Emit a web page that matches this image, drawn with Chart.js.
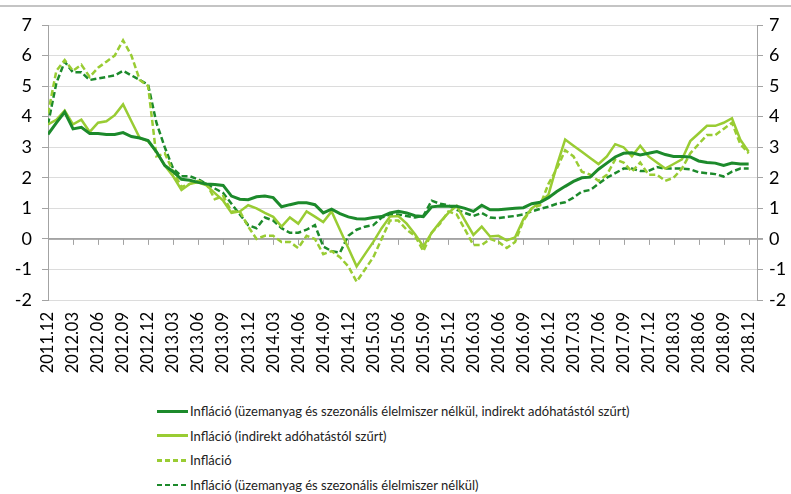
<!DOCTYPE html>
<html>
<head>
<meta charset="utf-8">
<script src="https://cdn.jsdelivr.net/npm/chart.js@4.4.1/dist/chart.umd.min.js"></script>
<style>
    body { margin: 0; background: #fff; }
    #wrap { position: relative; width: 791px; height: 494px; overflow: hidden; }
    #topline { position: absolute; left: 0; top: 5px; width: 791px; height: 2px; background: #c4c4c4; }
    #chart-box { position: absolute; left: 0; top: 0; width: 791px; height: 392px; }
    #legend { position: absolute; left: 157px; top: 399px; font-family: Lato, sans-serif; font-size: 13px; color: #222; }
    .item { height: 24.6px; display: flex; align-items: center; }
    .swatch { width: 31px; height: 0; margin-right: 2px; }
</style>
</head>
<body>
<div id="wrap">
    <div id="topline"></div>
    <div id="chart-box"><canvas id="chart" width="791" height="392"></canvas></div>
    <div id="legend"></div>
</div>
<script>
const months = [
    '2011.12',
    '2012.01', '2012.02', '2012.03', '2012.04', '2012.05', '2012.06', '2012.07', '2012.08', '2012.09', '2012.10', '2012.11', '2012.12',
    '2013.01', '2013.02', '2013.03', '2013.04', '2013.05', '2013.06', '2013.07', '2013.08', '2013.09', '2013.10', '2013.11', '2013.12',
    '2014.01', '2014.02', '2014.03', '2014.04', '2014.05', '2014.06', '2014.07', '2014.08', '2014.09', '2014.10', '2014.11', '2014.12',
    '2015.01', '2015.02', '2015.03', '2015.04', '2015.05', '2015.06', '2015.07', '2015.08', '2015.09', '2015.10', '2015.11', '2015.12',
    '2016.01', '2016.02', '2016.03', '2016.04', '2016.05', '2016.06', '2016.07', '2016.08', '2016.09', '2016.10', '2016.11', '2016.12',
    '2017.01', '2017.02', '2017.03', '2017.04', '2017.05', '2017.06', '2017.07', '2017.08', '2017.09', '2017.10', '2017.11', '2017.12',
    '2018.01', '2018.02', '2018.03', '2018.04', '2018.05', '2018.06', '2018.07', '2018.08', '2018.09', '2018.10', '2018.11', '2018.12'
];

// Infláció (üzemanyag és szezonális élelmiszer nélkül, indirekt adóhatástól szűrt)
const coreTaxFiltered = [
    3.42,
    3.8, 4.15, 3.6, 3.65, 3.45, 3.45, 3.42, 3.42, 3.48, 3.35, 3.3, 3.22,
    2.85, 2.4, 2.2, 1.95, 1.92, 1.85, 1.8, 1.78, 1.75, 1.4, 1.3, 1.28,
    1.38, 1.4, 1.35, 1.05, 1.12, 1.18, 1.18, 1.12, 0.85, 0.97, 0.83, 0.72,
    0.66, 0.65, 0.7, 0.73, 0.85, 0.9, 0.85, 0.76, 0.73, 1.05, 1.08, 1.07,
    1.07, 1.0, 0.9, 1.1, 0.95, 0.95, 0.98, 1.0, 1.02, 1.15, 1.2, 1.35,
    1.55, 1.72, 1.88, 2.0, 2.02, 2.28, 2.48, 2.68, 2.8, 2.82, 2.75, 2.8,
    2.86, 2.76, 2.7, 2.7, 2.68, 2.55, 2.5, 2.48, 2.4, 2.48, 2.45, 2.45
];

// Infláció (indirekt adóhatástól szűrt)
const taxFiltered = [
    3.75,
    3.9, 4.2, 3.75, 3.9, 3.5, 3.8, 3.85, 4.05, 4.4, 3.85, 3.3, 3.2,
    2.85, 2.4, 2.05, 1.6, 1.8, 1.85, 1.75, 1.5, 1.25, 0.85, 0.9, 1.1,
    1.0, 0.85, 0.72, 0.4, 0.7, 0.5, 0.9, 0.73, 0.55, 0.9, 0.3, -0.3,
    -0.9, -0.5, -0.1, 0.35, 0.73, 0.75, 0.5, 0.15, -0.25, 0.2, 0.55, 0.85,
    1.08, 0.6, 0.13, 0.4, 0.08, 0.1, -0.05, 0.05, 0.65, 1.0, 1.2, 1.45,
    2.4, 3.25, 3.05, 2.85, 2.65, 2.45, 2.7, 3.1, 3.0, 2.7, 3.05, 2.7,
    2.5, 2.3, 2.45, 2.6, 3.2, 3.45, 3.7, 3.7, 3.8, 3.95, 3.25, 2.85
];

// Infláció
const headline = [
    4.1,
    5.5, 5.85, 5.5, 5.7, 5.3, 5.6, 5.8, 6.0, 6.5, 6.0, 5.2, 5.0,
    2.7, 2.8, 2.2, 1.7, 1.8, 1.9, 1.8, 1.3, 1.4, 0.9, 0.9, 0.4,
    0.0, 0.1, 0.1, -0.1, -0.1, -0.3, 0.1, 0.0, -0.5, -0.4, -0.6, -0.9,
    -1.4, -1.0, -0.6, 0.0, 0.6, 0.6, 0.3, 0.1, -0.4, 0.2, 0.5, 0.9,
    0.8, 0.3, -0.2, -0.2, 0.0, -0.1, -0.3, -0.1, 0.6, 1.0, 1.1, 1.8,
    2.3, 2.9, 2.7, 2.2, 2.1, 1.9, 2.1, 2.6, 2.5, 2.2, 2.5, 2.1,
    2.1, 1.9, 2.0, 2.3, 2.8, 3.1, 3.4, 3.4, 3.6, 3.8, 3.1, 2.8
];

// Infláció (üzemanyag és szezonális élelmiszer nélkül)
const core = [
    3.75,
    5.1, 5.8, 5.45, 5.45, 5.2, 5.25, 5.3, 5.35, 5.5, 5.35, 5.2, 5.05,
    3.8, 3.0, 2.3, 2.05, 2.05, 1.95, 1.8, 1.65, 1.5, 1.15, 0.8, 0.45,
    0.35, 0.7, 0.6, 0.35, 0.2, 0.2, 0.3, 0.45, -0.25, -0.4, -0.45, 0.1,
    0.3, 0.4, 0.45, 0.7, 0.8, 0.8, 0.75, 0.7, 0.75, 1.25, 1.15, 1.1,
    0.95, 0.85, 0.75, 0.85, 0.7, 0.68, 0.72, 0.75, 0.8, 0.9, 0.98, 1.05,
    1.15, 1.2, 1.35, 1.55, 1.6, 1.8, 2.0, 2.15, 2.3, 2.3, 2.22, 2.22,
    2.35, 2.3, 2.3, 2.3, 2.28, 2.18, 2.15, 2.12, 2.04, 2.2, 2.3, 2.3
];

const yTicks = [-2, -1, 0, 1, 2, 3, 4, 5, 6, 7];

const DARK = '#1c8a2b';
const LIGHT = '#99cc33';
const FONT = 'Lato, sans-serif';

function points(values) {
    return values.map((v, i) => ({ x: i, y: v }));
}

// x axis line sits at zero with small tick marks every quarter
const zeroAxis = {
    id: 'zeroAxis',
    beforeDatasetsDraw(chart) {
        const { ctx, scales: { x, y } } = chart;
        const y0 = y.getPixelForValue(0);
        ctx.save();
        ctx.strokeStyle = '#a3a3a3';
        ctx.lineWidth = 1;
        ctx.beginPath();
        ctx.moveTo(chart.chartArea.left, y0 + 0.5);
        ctx.lineTo(chart.chartArea.right + 6, y0 + 0.5);
        x.ticks.forEach(t => {
            const px = Math.round(x.getPixelForValue(t.value)) + 0.5;
            ctx.moveTo(px, y0);
            ctx.lineTo(px, y0 + 6);
        });
        ctx.stroke();
        ctx.restore();
    }
};

const datasets = [
    { label: 'Infláció (üzemanyag és szezonális élelmiszer nélkül, indirekt adóhatástól szűrt)', data: points(coreTaxFiltered), borderColor: DARK, borderWidth: 3, dash: [] },
    { label: 'Infláció (indirekt adóhatástól szűrt)', data: points(taxFiltered), borderColor: LIGHT, borderWidth: 2.5, dash: [] },
    { label: 'Infláció', data: points(headline), borderColor: LIGHT, borderWidth: 2.5, dash: [6, 3] },
    { label: 'Infláció (üzemanyag és szezonális élelmiszer nélkül)', data: points(core), borderColor: DARK, borderWidth: 2.5, dash: [6, 3] }
].map(d => ({
    label: d.label,
    data: d.data,
    borderColor: d.borderColor,
    backgroundColor: d.borderColor,
    borderWidth: d.borderWidth,
    borderDash: d.dash,
    pointRadius: 0,
    tension: 0,
    fill: false
}));

function yAxis(position, width, padding) {
    return {
        type: 'linear',
        position: position,
        min: -2,
        max: 7,
        afterBuildTicks: s => { s.ticks = yTicks.map(v => ({ value: v })); },
        afterFit: s => { s.width = width; },
        ticks: { color: '#000', font: { family: FONT, size: 18 }, padding: padding },
        grid: {
            drawOnChartArea: position === 'left',
            color: c => (c.tick && c.tick.value === 0) ? '#a3a3a3' : '#dcdcdc',
            tickColor: '#a3a3a3',
            tickLength: 6
        },
        border: { color: '#a3a3a3', width: 1 }
    };
}

const chart = new Chart(document.getElementById('chart'), {
    type: 'line',
    data: { datasets: datasets },
    options: {
        responsive: false,
        animation: false,
        layout: { padding: { top: 25, left: 0, right: 0, bottom: 0 } },
        plugins: { legend: { display: false }, tooltip: { enabled: false } },
        scales: {
            x: {
                type: 'linear',
                position: 'bottom',
                min: 0,
                max: 85,
                afterBuildTicks: s => { s.ticks = months.map((m, i) => ({ value: i })).filter(t => t.value % 3 === 0); },
                afterFit: s => { s.height = 92; },
                ticks: {
                    color: '#000',
                    font: { family: FONT, size: 16.5 },
                    maxRotation: 90,
                    minRotation: 90,
                    autoSkip: false,
                    padding: 12,
                    callback: v => months[v]
                },
                grid: { display: false, drawTicks: false },
                border: { display: false }
            },
            y: yAxis('left', 48, 10),
            y2: yAxis('right', 34, 6)
        }
    },
    plugins: [zeroAxis]
});

// legend under the chart, one entry per row
const legend = document.getElementById('legend');
chart.data.datasets.forEach(ds => {
    const row = document.createElement('div');
    row.className = 'item';
    const sw = document.createElement('span');
    sw.className = 'swatch';
    if (ds.borderDash.length) {
        sw.style.height = '2.5px';
        sw.style.background = `repeating-linear-gradient(90deg, ${ds.borderColor} 0 5px, transparent 5px 8px)`;
    } else {
        sw.style.borderTop = '3px solid ' + ds.borderColor;
    }
    const txt = document.createElement('span');
    txt.textContent = ds.label;
    row.appendChild(sw);
    row.appendChild(txt);
    legend.appendChild(row);
});
</script>
</body>
</html>
